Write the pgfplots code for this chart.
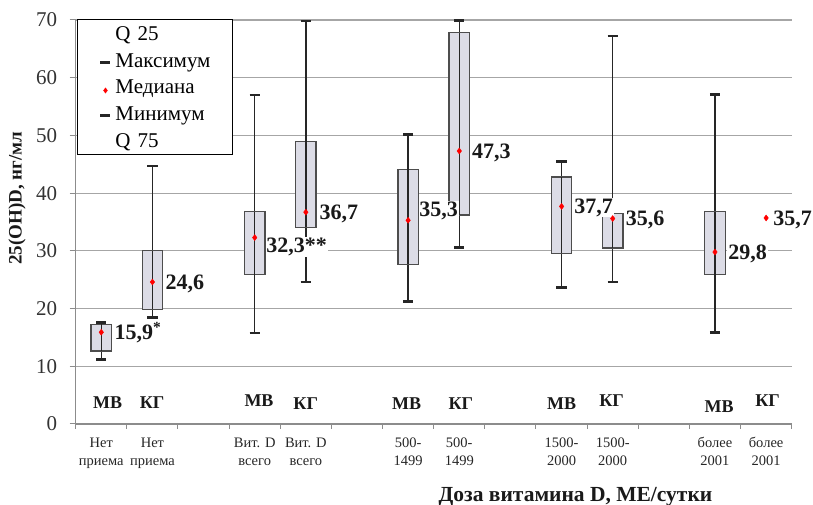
\documentclass[border=0pt]{standalone}
\usepackage{fontspec}
\setmainfont{Liberation Serif}
\usepackage{pgfplots}
\pgfplotsset{compat=1.18}
\usepgfplotslibrary{statistics}
\definecolor{gridc}{HTML}{A6A6A6}
\definecolor{axc}{HTML}{8C8C8C}
\definecolor{boxf}{HTML}{DCDCE6}
\definecolor{boxe}{HTML}{4D4D4D}
\definecolor{whc}{HTML}{262626}
\definecolor{medc}{HTML}{FF0000}
\newcommand{\tl}[2]{\begin{tabular}[t]{@{}c@{}}#1\\#2\end{tabular}}
\pgfplotsset{
  mybox/.style={
    forget plot,
    boxplot/draw direction=y,
    boxplot/box extend=0.4,
    boxplot/whisker extend=0.2,
    boxplot/draw/median/.code={},
    boxplot/draw/box/.code={%
      \draw[draw=boxe, fill=boxf, line width=1.2pt]
        (boxplot box cs:\pgfplotsboxplotvalue{lower quartile},0) rectangle
        (boxplot box cs:\pgfplotsboxplotvalue{upper quartile},1);
      \draw[whc, line width=1.5pt]
        (boxplot cs:\pgfplotsboxplotvalue{lower quartile}) --
        (boxplot cs:\pgfplotsboxplotvalue{upper quartile});
    },
    boxplot/draw/lower whisker/.code={%
      \draw[whc, line width=1.5pt]
        (boxplot cs:\pgfplotsboxplotvalue{lower whisker}) --
        (boxplot cs:\pgfplotsboxplotvalue{lower quartile});
      \draw[whc, line width=2.6pt]
        (boxplot whisker cs:\pgfplotsboxplotvalue{lower whisker},0) --
        (boxplot whisker cs:\pgfplotsboxplotvalue{lower whisker},1);
    },
    boxplot/draw/upper whisker/.code={%
      \draw[whc, line width=1.5pt]
        (boxplot cs:\pgfplotsboxplotvalue{upper quartile}) --
        (boxplot cs:\pgfplotsboxplotvalue{upper whisker});
      \draw[whc, line width=2.6pt]
        (boxplot whisker cs:\pgfplotsboxplotvalue{upper whisker},0) --
        (boxplot whisker cs:\pgfplotsboxplotvalue{upper whisker},1);
    },
  },
}
\tikzset{
  lab/.style={font=\bfseries\fontsize{22}{25}\selectfont, fill=white, inner sep=0.8pt, anchor=base west, text=black!90},
  grp/.style={font=\bfseries\fontsize{18}{21}\selectfont, anchor=base, inner sep=0pt, text=black!90},
}
\begin{document}
\begin{tikzpicture}
\begin{axis}[
  scale only axis, width=716pt, height=404pt,
  clip=false,
  xmin=-0.5, xmax=13.5, ymin=0, ymax=70,
  axis lines*=left,
  axis line style={axc, line width=1.2pt},
  ytick={0,10,...,70},
  ymajorgrids, grid style={gridc, line width=1.1pt},
  xtick={0,1,3,4,6,7,9,10,12,13},
  xticklabels={\tl{Нет}{приема},\tl{Нет}{приема},\tl{Вит. D}{всего},\tl{Вит. D}{всего},\tl{500-}{1499},\tl{500-}{1499},\tl{1500-}{2000},\tl{1500-}{2000},\tl{более}{2001},\tl{более}{2001}},
  minor xtick={-0.5,0.5,...,13.5},
  tick align=outside,
  major x tick style={draw=none},
  minor x tick style={axc, line width=1pt},
  minor tick length=5pt,
  major tick length=6pt,
  y tick style={axc, line width=1pt},
  /pgf/number format/assume math mode=true,
  xticklabel style={font=\fontsize{14.5}{17.3}\selectfont, anchor=base, yshift=-17.8pt, inner sep=0pt, text=black!85},
  yticklabel style={font=\fontsize{21}{24}\selectfont, text=black!80, xshift=-9pt},
  xlabel={Доза витамина D, МЕ/сутки},
  xlabel style={at={(axis description cs:0.698,0)}, anchor=base, yshift=-77.7pt, inner sep=0pt, font=\bfseries\fontsize{21.5}{24}\selectfont, text=black!90},
  ylabel={25(OH)D, нг/мл},
  ylabel style={at={(axis description cs:-0.082,0.386)}, anchor=west, rotate=0, font=\bfseries\fontsize{19}{22}\selectfont, text=black!90},
  legend cell align=left,
  legend style={at={(axis description cs:0.0018,1.0025)}, anchor=north west, draw=black, line width=1pt, fill=white,
    inner xsep=2pt, inner ysep=0.8pt, column sep=0pt, row sep=0pt,
    font=\fontsize{21}{24}\selectfont,
    nodes={inner sep=0pt, text height=20.2pt, text depth=6.5pt, text width=115pt}},
]
\addlegendimage{legend image code/.code={\path[draw=none,fill=none] (0pt,-5pt) rectangle (36pt,5pt);}}
\addlegendentry{Q 25}
\addlegendimage{legend image code/.code={\path[draw=none,fill=none] (0pt,-5pt) rectangle (36pt,5pt); \draw[whc, line width=3pt] (21pt,-1.85pt) -- (31pt,-1.85pt);}}
\addlegendentry{Максимум}
\addlegendimage{legend image code/.code={\path[draw=none,fill=none] (0pt,-5pt) rectangle (36pt,5pt); \path[draw=medc, fill=medc, line width=0.4pt] plot[only marks, mark=diamond*, mark size=2.6pt] coordinates {(26pt,-3.45pt)};}}
\addlegendentry{Медиана}
\addlegendimage{legend image code/.code={\path[draw=none,fill=none] (0pt,-5pt) rectangle (36pt,5pt); \draw[whc, line width=3pt] (21pt,-1.85pt) -- (31pt,-1.85pt);}}
\addlegendentry{Минимум}
\addlegendimage{legend image code/.code={\path[draw=none,fill=none] (0pt,-5pt) rectangle (36pt,5pt);}}
\addlegendentry{Q 75}

\addplot[mybox, boxplot prepared={draw position=0, lower whisker=11.2, lower quartile=12.65, median=15.9, upper quartile=17.3, upper whisker=17.6}] coordinates {};
\addplot[mybox, boxplot prepared={draw position=1, lower whisker=18.5, lower quartile=19.9, median=24.6, upper quartile=30.0, upper whisker=44.7}] coordinates {};
\addplot[mybox, boxplot prepared={draw position=3, lower whisker=15.8, lower quartile=25.9, median=32.3, upper quartile=36.8, upper whisker=57.0}] coordinates {};
\addplot[mybox, boxplot prepared={draw position=4, lower whisker=24.6, lower quartile=34.1, median=36.7, upper quartile=49.0, upper whisker=69.8}] coordinates {};
\addplot[mybox, boxplot prepared={draw position=6, lower whisker=21.2, lower quartile=27.7, median=35.3, upper quartile=44.1, upper whisker=50.2}] coordinates {};
\addplot[mybox, boxplot prepared={draw position=7, lower whisker=30.6, lower quartile=36.2, median=47.3, upper quartile=67.8, upper whisker=69.9}] coordinates {};
\addplot[mybox, boxplot prepared={draw position=9, lower whisker=23.7, lower quartile=29.6, median=37.7, upper quartile=42.8, upper whisker=45.5}] coordinates {};
\addplot[mybox, boxplot prepared={draw position=10, lower whisker=24.6, lower quartile=30.5, median=35.6, upper quartile=36.5, upper whisker=67.2}] coordinates {};
\addplot[mybox, boxplot prepared={draw position=12, lower whisker=15.9, lower quartile=25.9, median=29.8, upper quartile=36.8, upper whisker=57.1}] coordinates {};

\node[lab] at (axis cs:0.24,14.56) {15,9\textsuperscript{*}};
\node[lab] at (axis cs:1.24,23.22) {24,6};
\node[lab] at (axis cs:3.21,29.69) {32,3**};
\node[lab] at (axis cs:4.25,35.36) {36,7};
\node[lab] at (axis cs:6.20,35.93) {35,3};
\node[lab] at (axis cs:7.23,46.05) {47,3};
\node[lab] at (axis cs:9.23,36.52) {37,7};
\node[lab] at (axis cs:10.24,34.32) {35,6};
\node[lab] at (axis cs:12.24,28.54) {29,8};
\node[lab] at (axis cs:13.12,34.37) {35,7};

\node[grp] at (axis cs:0.126,2.6) {МВ};
\node[grp] at (axis cs:0.992,2.6) {КГ};
\node[grp] at (axis cs:3.084,3.0) {МВ};
\node[grp] at (axis cs:3.998,2.45) {КГ};
\node[grp] at (axis cs:5.97,2.45) {МВ};
\node[grp] at (axis cs:7.03,2.55) {КГ};
\node[grp] at (axis cs:9.0,2.55) {МВ};
\node[grp] at (axis cs:9.98,3.1) {КГ};
\node[grp] at (axis cs:12.08,2.05) {МВ};
\node[grp] at (axis cs:13.03,3.1) {КГ};

\addplot[forget plot, only marks, mark=diamond*, mark size=3pt, color=medc] coordinates {
(0,15.9) (1,24.6) (3,32.3) (4,36.7) (6,35.3) (7,47.3) (9,37.7) (10,35.6) (12,29.8) (13,35.7)};
\end{axis}
\pgfresetboundingbox
\path[use as bounding box] (-75.7pt,-81pt) rectangle (737.3pt,424pt);
\end{tikzpicture}
\end{document}
